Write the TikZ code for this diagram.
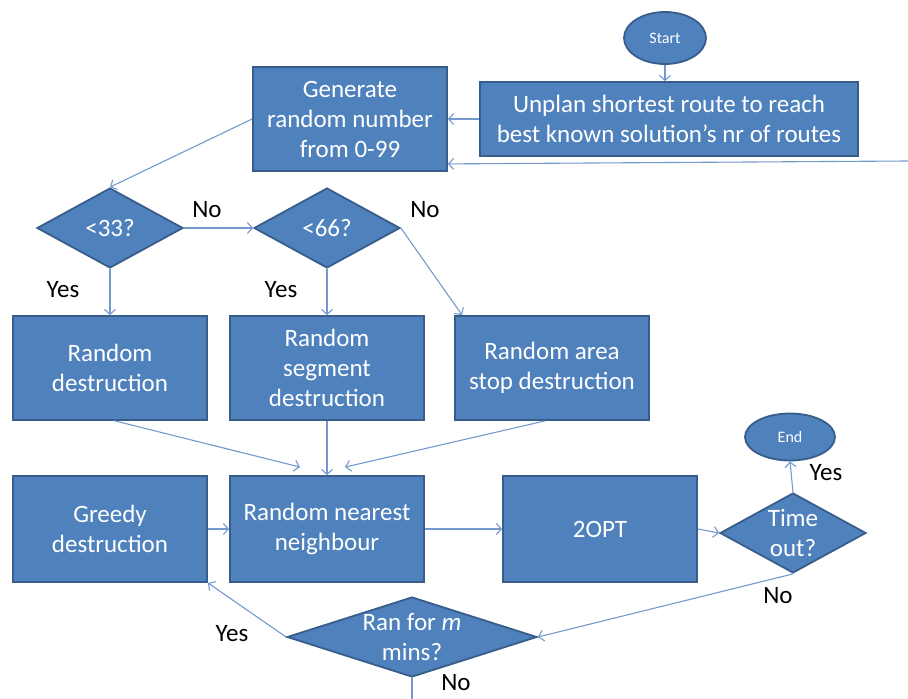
\documentclass[tikz,border=0pt]{standalone}
\usepackage{fontspec}
\setmainfont{Carlito}
\usetikzlibrary{shapes.geometric,arrows.meta,calc}
\definecolor{boxfill}{HTML}{4F81BD}
\definecolor{boxline}{HTML}{385D8A}
\definecolor{linkc}{HTML}{7399CF}
\tikzset{
  stepbox/.style={rectangle, fill=boxfill, draw=boxline, line width=1.8pt,
    minimum width=194pt, inner sep=2pt, align=center, text=white,
    font=\fontsize{25}{30}\selectfont},
  termbox/.style={ellipse, fill=boxfill, draw=boxline, line width=1.8pt,
    inner sep=0pt, text=white, font=\fontsize{16}{18}\selectfont},
  decbox/.style={diamond, fill=boxfill, draw=boxline, line width=1.8pt,
    inner sep=0pt, aspect=2},
  dectext/.style={align=center, text=white, font=\fontsize{25}{30}\selectfont},
  link/.style={draw=linkc, line width=1.1pt, -{Straight Barb[length=5pt,width=11pt,line width=1.1pt]}},
  plainlink/.style={draw=linkc, line width=1.1pt},
  answer/.style={text=black, font=\fontsize{25}{28}\selectfont},
}
\begin{document}
\begin{tikzpicture}[x=1pt,y=-1pt]
\useasboundingbox (0,0) rectangle (908,699);

% terminals
\node[termbox, minimum width=82pt, minimum height=52pt] (start) at (665,38) {Start};
\node[termbox, minimum width=90pt, minimum height=47pt] (end) at (790,437) {End};

% top row
\node[stepbox, minimum width=378pt, minimum height=74pt] (unplan) at (669,119)
  {Unplan shortest route to reach\\best known solution’s nr of routes};
\node[stepbox, minimum height=104pt] (gen) at (350,119)
  {Generate\\random number\\from 0-99};

% decisions on the random number
\node[decbox, minimum width=146pt, minimum height=80pt] (d33) at (110,228) {};
\node[dectext] at (d33) {<33?};
\node[decbox, minimum width=146pt, minimum height=80pt] (d66) at (327,228) {};
\node[dectext] at (d66) {<66?};

% destruction operators
\node[stepbox, minimum height=104pt] (rd) at (110,368) {Random\\destruction};
\node[stepbox, minimum height=104pt] (rs) at (327,368) {Random\\segment\\destruction};
\node[stepbox, minimum height=104pt] (ra) at (552,368) {Random area\\stop destruction};

% repair and improvement
\node[stepbox, minimum height=106pt] (greedy) at (110,529) {Greedy\\destruction};
\node[stepbox, minimum height=106pt] (rnn) at (327,529) {Random nearest\\neighbour};
\node[stepbox, minimum height=106pt] (opt) at (600,529) {2OPT};

% stopping checks
\node[decbox, minimum width=146pt, minimum height=80pt] (tout) at (793,533) {};
\node[dectext] at (tout) {Time\\out?};
\node[decbox, minimum width=250pt, minimum height=80pt] (ran) at (412,637) {};
\node[dectext] at (ran) {Ran for \textit{m}\\mins?};

% free ends
\coordinate (loopin) at (908,161);
\coordinate (down) at (412,699);

% connectors
\draw[link] (start.south) -- (start.south |- unplan.north);
\draw[link] (unplan.west) -- (gen.east |- unplan.west);
\draw[link] (loopin) -- ($(gen.south east)+(0,-8)$);
\draw[link] (gen.west) -- (d33.north);
\draw[link] (d33.east) -- (d66.west);
\draw[link] (d33.south) -- (rd.north);
\draw[link] (d66.south) -- (rs.north);
\draw[link] (d66.east) -- ($(ra.north west)+(8,0)$);
\draw[link] ($(rd.south)+(5,0)$) -- ($(rnn.north)+(-27,-8)$);
\draw[link] (rs.south) -- (rnn.north);
\draw[link] ($(ra.south)+(-7,0)$) -- ($(rnn.north)+(18,-8)$);
\draw[link] (greedy.east) -- (rnn.west);
\draw[link] (rnn.east) -- (opt.west);
\draw[link] (opt.east) -- (tout.west);
\draw[link] (tout.north) -- (end.south);
\draw[link] (tout.south) -- (ran.east);
\draw[link] (ran.west) -- (greedy.south east);
\draw[plainlink] (ran.south) -- (down);

% branch labels
\node[answer] (n33) at (207,210) {No};
\node[answer] (n66) at (425,210) {No};
\node[answer] (y33) at (63,290) {Yes};
\node[answer] (y66) at (281,290) {Yes};
\node[answer] (yt) at (826,473) {Yes};
\node[answer] (nt) at (778,596) {No};
\node[answer] (yr) at (232,634) {Yes};
\node[answer] (nr) at (456,683) {No};
\end{tikzpicture}
\end{document}
